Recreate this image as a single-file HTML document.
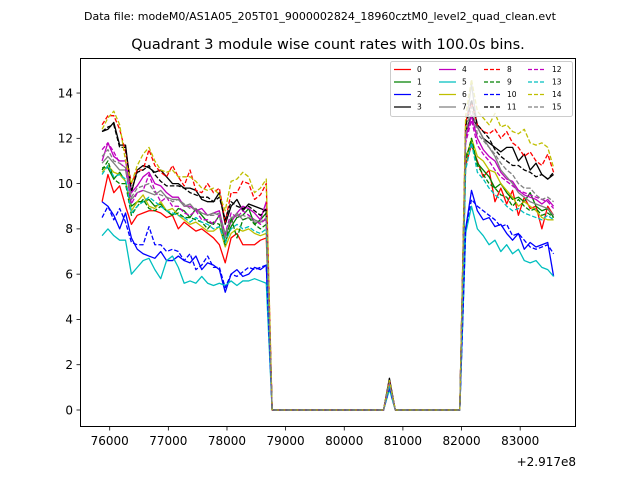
<!DOCTYPE html>
<html><head><meta charset="utf-8"><style>
body{margin:0;background:#fff;}
svg{display:block;font-family:"DejaVu Sans","Liberation Sans",sans-serif;}
</style></head><body>
<svg id="chart" width="640" height="480" viewBox="0 0 640 480" xmlns="http://www.w3.org/2000/svg">
<rect x="0" y="0" width="640" height="480" fill="#fff"/>
<text x="320" y="20" font-size="11" text-anchor="middle">Data file: modeM0/AS1A05_205T01_9000002824_18960cztM0_level2_quad_clean.evt</text>
<text x="328" y="49" font-size="14.5" text-anchor="middle">Quadrant 3 module wise count rates with 100.0s bins.</text>
<g id="plot"></g>
<rect x="80.5" y="58.5" width="495" height="368" fill="none" stroke="#000" stroke-width="1"/>
<g id="xticks"></g>
<g id="yticks"></g>
<text x="576" y="466" font-size="12" text-anchor="end">+2.917e8</text>
<g id="legend"></g>
</svg>
<script>
const times=[75870,75970,76070,76170,76270,76370,76470,76570,76670,76770,76870,76970,77070,77170,77270,77370,77470,77570,77670,77770,77870,77970,78070,78170,78270,78370,78470,78570,78670,78770,78870,78970,79070,79170,79270,79370,79470,79570,79670,79770,79870,79970,80070,80170,80270,80370,80470,80570,80670,80770,80870,80970,81070,81170,81270,81370,81470,81570,81670,81770,81870,81970,82070,82170,82270,82370,82470,82570,82670,82770,82870,82970,83070,83170,83270,83370,83470,83570];
const labels=["0","1","2","3","4","5","6","7","8","9","10","11","12","13","14","15"];
const xTicks=[76000,77000,78000,79000,80000,81000,82000,83000];
const yTicks=[0,2,4,6,8,10,12,14];
const s0=[9.2,10.4,9.6,9.9,9.0,8.2,8.6,8.7,8.8,8.8,8.7,8.5,8.6,8.0,8.3,8.1,7.9,8.0,7.8,7.6,7.3,6.5,7.6,7.8,7.3,7.3,7.3,7.5,7.6,0,0,0,0,0,0,0,0,0,0,0,0,0,0,0,0,0,0,0,0,1.3,0,0,0,0,0,0,0,0,0,0,0,0,10.8,11.7,11.0,10.3,10.6,9.2,9.8,9.1,9.7,8.6,9.4,8.9,9.0,8.0,9.0,8.6];
const s1=[10.7,10.7,10.2,10.5,10.1,9.0,9.2,9.2,9.3,9.0,9.1,8.8,8.6,8.9,8.8,8.5,8.9,8.6,8.3,8.2,8.6,7.4,8.1,8.5,8.6,8.9,8.2,8.4,8.7,0,0,0,0,0,0,0,0,0,0,0,0,0,0,0,0,0,0,0,0,1.2,0,0,0,0,0,0,0,0,0,0,0,0,11.2,11.8,10.9,10.6,10.3,9.8,10.0,9.6,9.3,9.4,9.2,9.6,9.0,8.8,8.9,8.5];
const s2=[9.2,9.0,8.6,8.0,8.7,7.6,7.1,6.9,6.8,6.7,7.0,6.6,6.6,6.8,6.6,6.5,6.8,6.2,6.5,6.4,6.2,5.2,6.0,6.2,5.9,6.0,6.3,6.2,6.4,0,0,0,0,0,0,0,0,0,0,0,0,0,0,0,0,0,0,0,0,1.0,0,0,0,0,0,0,0,0,0,0,0,0,8.0,9.7,8.8,8.4,8.5,8.1,8.2,7.8,7.5,7.8,7.1,7.4,7.2,7.3,7.4,5.9];
const s3=[12.3,12.4,12.7,11.7,11.7,9.6,10.6,10.8,10.7,10.5,10.6,10.3,10.0,10.0,9.8,9.8,9.7,9.3,9.2,9.2,9.6,8.2,9.0,9.3,8.8,9.1,9.0,8.9,8.8,0,0,0,0,0,0,0,0,0,0,0,0,0,0,0,0,0,0,0,0,1.4,0,0,0,0,0,0,0,0,0,0,0,0,12.3,13.0,12.5,12.0,11.8,11.6,11.4,11.6,11.6,11.0,11.3,10.6,10.9,10.4,10.2,10.4];
const s4=[11.0,11.8,11.2,11.0,11.0,9.6,9.9,10.3,10.5,10.0,9.9,9.6,9.4,9.4,9.0,9.0,8.8,8.9,8.6,8.7,8.8,7.7,8.3,8.7,9.0,8.9,8.7,8.4,9.2,0,0,0,0,0,0,0,0,0,0,0,0,0,0,0,0,0,0,0,0,1.2,0,0,0,0,0,0,0,0,0,0,0,0,12.0,13.0,12.0,11.5,11.2,11.0,10.5,10.2,10.1,9.7,9.5,9.4,9.3,9.1,9.3,9.0];
const s5=[7.7,8.0,7.7,7.5,7.5,6.0,6.3,6.6,6.7,6.2,5.8,6.6,6.8,6.3,5.6,5.7,5.6,5.9,5.6,5.5,5.6,5.5,5.7,5.5,5.7,5.7,5.8,5.7,5.6,0,0,0,0,0,0,0,0,0,0,0,0,0,0,0,0,0,0,0,0,0.9,0,0,0,0,0,0,0,0,0,0,0,0,7.8,9.0,8.0,7.7,7.3,7.5,7.0,7.3,6.9,7.1,6.6,6.5,6.6,6.3,6.2,5.9];
const s6=[10.5,10.8,10.5,10.4,10.1,8.8,9.2,9.5,9.0,8.9,9.2,8.8,8.9,8.6,8.4,8.2,8.3,8.1,7.9,7.9,8.1,7.2,7.8,8.0,7.9,8.0,7.8,7.7,7.8,0,0,0,0,0,0,0,0,0,0,0,0,0,0,0,0,0,0,0,0,1.1,0,0,0,0,0,0,0,0,0,0,0,0,11.0,12.0,11.2,11.0,10.6,10.5,10.0,9.7,9.4,9.0,9.2,9.0,8.8,8.5,8.4,8.4];
const s7=[10.9,11.2,10.9,10.6,10.6,9.3,9.6,9.7,9.6,9.5,9.7,9.4,9.3,9.3,9.0,9.1,8.8,8.7,8.6,8.7,8.6,7.6,8.4,8.7,8.4,8.5,8.3,8.3,8.4,0,0,0,0,0,0,0,0,0,0,0,0,0,0,0,0,0,0,0,0,1.2,0,0,0,0,0,0,0,0,0,0,0,0,12.5,14.4,12.5,12.0,11.6,11.2,10.6,10.3,10.0,9.6,9.4,9.2,9.1,9.0,8.9,8.6];
const s8=[12.6,13.0,13.0,12.4,11.4,10.0,10.6,10.6,11.5,10.8,10.5,10.3,10.8,10.3,9.9,10.6,9.7,9.6,10.0,9.6,9.8,8.3,9.6,9.6,10.1,10.0,9.3,9.5,10.0,0,0,0,0,0,0,0,0,0,0,0,0,0,0,0,0,0,0,0,0,1.3,0,0,0,0,0,0,0,0,0,0,0,0,12.7,13.6,12.6,12.3,12.2,12.4,12.0,12.3,11.8,11.6,11.2,11.4,11.0,10.8,11.3,10.5];
const s9=[10.6,11.0,10.2,10.0,10.0,8.6,9.0,9.3,8.9,8.8,9.0,8.8,8.6,8.7,8.5,8.5,8.4,8.3,8.0,8.3,8.2,7.3,8.5,7.6,8.4,8.5,8.2,8.0,8.2,0,0,0,0,0,0,0,0,0,0,0,0,0,0,0,0,0,0,0,0,1.1,0,0,0,0,0,0,0,0,0,0,0,0,11.0,12.0,10.8,10.4,10.0,9.8,9.5,9.4,9.0,9.3,9.0,8.8,8.9,8.6,8.7,8.5];
const s10=[8.5,9.0,8.4,8.9,8.3,7.4,7.3,7.3,8.1,7.3,7.3,7.0,7.1,7.0,6.6,6.9,6.2,6.4,6.8,6.3,6.3,5.4,6.0,5.9,6.1,6.3,6.2,6.3,6.4,0,0,0,0,0,0,0,0,0,0,0,0,0,0,0,0,0,0,0,0,1.0,0,0,0,0,0,0,0,0,0,0,0,0,8.0,9.3,9.0,8.8,8.6,8.4,8.1,8.2,7.7,7.8,7.5,7.2,7.1,7.2,7.3,6.9];
const s11=[12.3,12.5,12.6,11.6,11.6,9.7,10.5,10.6,10.8,10.4,10.1,9.9,9.9,9.9,9.8,9.6,9.5,9.4,9.4,9.2,9.4,8.4,9.2,9.0,8.9,9.0,8.8,8.6,8.9,0,0,0,0,0,0,0,0,0,0,0,0,0,0,0,0,0,0,0,0,1.3,0,0,0,0,0,0,0,0,0,0,0,0,12.5,13.7,12.6,12.3,12.0,11.5,11.2,11.0,10.8,10.8,10.6,10.5,10.3,10.4,10.2,10.5];
const s12=[11.5,11.8,11.4,10.9,10.7,9.1,9.6,9.7,10.4,9.7,9.2,9.4,9.0,9.0,8.7,8.6,8.8,8.4,8.4,8.2,8.6,7.8,8.7,8.5,8.8,8.6,8.4,8.2,8.5,0,0,0,0,0,0,0,0,0,0,0,0,0,0,0,0,0,0,0,0,1.2,0,0,0,0,0,0,0,0,0,0,0,0,11.8,12.8,11.7,11.3,11.0,10.6,10.3,10.1,9.9,9.7,9.6,9.5,9.4,9.3,9.2,8.9];
const s13=[10.4,10.8,10.3,10.4,10.2,8.7,9.0,9.2,9.4,9.2,9.0,8.8,8.7,8.6,8.5,8.3,8.5,8.3,8.2,8.0,8.1,7.4,8.0,8.2,8.0,8.1,7.9,7.8,8.0,0,0,0,0,0,0,0,0,0,0,0,0,0,0,0,0,0,0,0,0,1.1,0,0,0,0,0,0,0,0,0,0,0,0,10.6,11.8,10.5,10.2,9.8,9.5,9.3,9.0,8.8,8.9,8.7,8.6,8.5,8.4,8.6,8.4];
const s14=[12.4,12.9,13.2,12.6,11.0,10.0,10.8,11.3,11.6,11.0,10.6,10.5,10.6,10.3,10.3,10.3,10.1,9.8,9.7,9.8,9.5,8.8,10.1,10.2,10.5,10.3,9.6,9.8,10.2,0,0,0,0,0,0,0,0,0,0,0,0,0,0,0,0,0,0,0,0,1.3,0,0,0,0,0,0,0,0,0,0,0,0,13.0,14.6,13.2,12.9,12.6,13.1,12.5,12.6,12.3,12.2,12.4,11.8,11.7,11.8,11.6,10.7];
const s15=[11.2,11.5,11.0,10.9,10.7,9.4,9.8,9.9,10.0,9.6,9.5,9.4,9.2,9.3,9.1,8.9,8.9,8.7,8.6,8.6,8.7,7.8,8.5,8.6,8.6,8.5,8.4,8.3,8.5,0,0,0,0,0,0,0,0,0,0,0,0,0,0,0,0,0,0,0,0,1.2,0,0,0,0,0,0,0,0,0,0,0,0,12.2,13.4,12.2,11.9,11.6,11.3,10.9,10.6,10.4,10.0,9.8,9.8,9.5,9.3,9.4,9.2];
const series=[s0,s1,s2,s3,s4,s5,s6,s7,s8,s9,s10,s11,s12,s13,s14,s15];
const colors=["#ff0000","#008000","#0000ff","#000000","#bf00bf","#00bfbf","#bfbf00","#808080"];

const NS="http://www.w3.org/2000/svg";
function xs(t){return 109.7+(t-76000)*0.05864;}
function ys(v){return 410-v*22.64;}
function mk(tag,attrs,parent){const e=document.createElementNS(NS,tag);for(const k in attrs)e.setAttribute(k,attrs[k]);parent.appendChild(e);return e;}

const plot=document.getElementById('plot');
series.forEach((s,i)=>{
  const pts=s.map((v,j)=>xs(times[j]).toFixed(2)+","+ys(v).toFixed(2)).join(" ");
  const p=mk('polyline',{points:pts,fill:"none",stroke:colors[i%8],"stroke-width":"1.3","stroke-linejoin":"round"},plot);
  if(i>=8)p.setAttribute('stroke-dasharray','4.5,2');
  
  
});

const xg=document.getElementById('xticks');
xTicks.forEach(t=>{
  const x=xs(t);
  const l=mk('line',{x1:x,x2:x,y1:426.5,y2:430.5,stroke:"#000","stroke-width":"0.8"},xg);
  
  
  const tx=mk('text',{x:x,y:445,"font-size":"12","text-anchor":"middle"},xg);
  tx.textContent=t;
  
  
});
const yg=document.getElementById('yticks');
yTicks.forEach(v=>{
  const y=ys(v);
  const l=mk('line',{x1:76.5,x2:80.5,y1:y,y2:y,stroke:"#000","stroke-width":"0.8"},yg);
  
  
  const tx=mk('text',{x:73,y:y+4.3,"font-size":"12","text-anchor":"end"},yg);
  tx.textContent=v;
  
  
});

const lg=document.getElementById('legend');
const box=mk('rect',{x:390.5,y:61.5,width:182,height:55,rx:2,fill:"#fff","fill-opacity":"0.8",stroke:"#ccc","stroke-width":"1"},lg);


const colX=[394,439,484,528];
const txtX=[417,462,507,552];
const rowY=[69.5,82,94.5,107];
labels.forEach((lab,i)=>{
  const c=Math.floor(i/4), r=i%4;
  const g=mk('g',{},lg);
  
  
  const l=mk('line',{x1:colX[c],x2:colX[c]+17,y1:rowY[r],y2:rowY[r],stroke:colors[i%8],"stroke-width":"1.3"},g);
  if(i>=8)l.setAttribute('stroke-dasharray','4,2');
  const t=mk('text',{x:txtX[c],y:rowY[r]+2.7,"font-size":"7.5"},g);
  t.textContent=lab;
});
</script>
</body></html>
